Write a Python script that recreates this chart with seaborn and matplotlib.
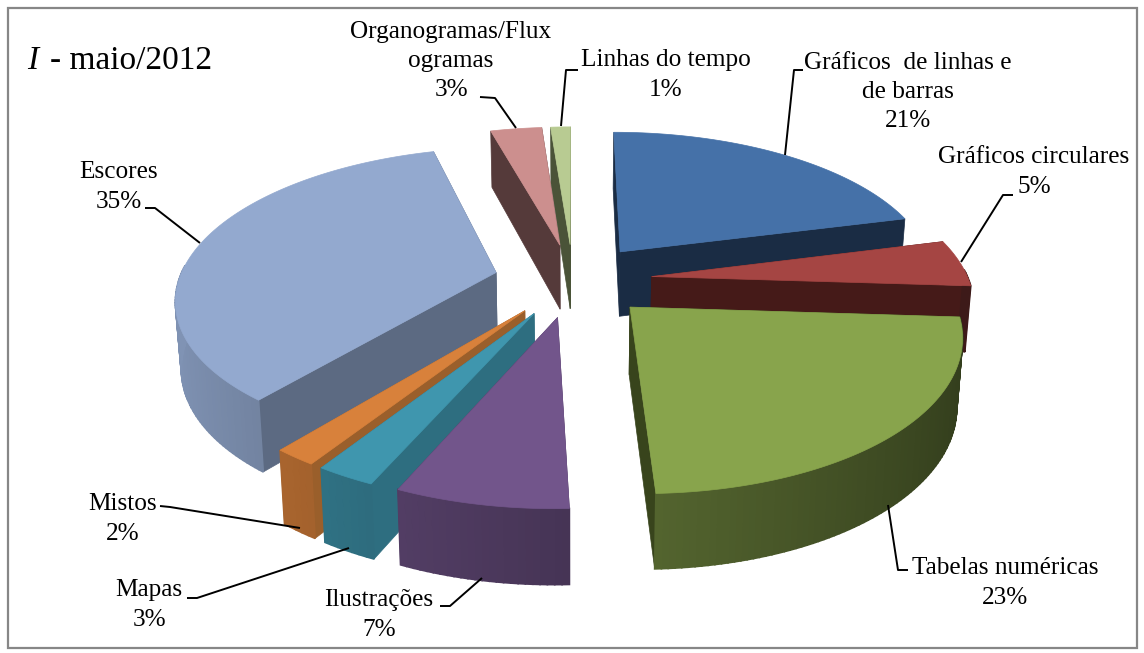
"""Pizza 3D explodida: tipos de gráficos, maio/2012."""
import matplotlib.pyplot as plt
import numpy as np
import seaborn as sns

categorias = ["Gráficos  de linhas e\nde barras", "Gráficos circulares", "Tabelas numéricas",
              "Ilustrações", "Mapas", "Mistos", "Escores",
              "Organogramas/Flux\nogramas", "Linhas do tempo"]
# os rótulos vêm arredondados; as fatias foram medidas na figura
percentuais = ["21%", "5%", "23%", "7%", "3%", "2%", "35%", "3%", "1%"]
valores = [21, 5, 23.4, 7.2, 2.5, 1.8, 34.8, 3.1, 1.2]

cores_topo = ["#4571a8", "#a54543", "#88a44c", "#72558b", "#3f96ae",
              "#d8813b", "#93a9cf", "#cc8f8e", "#b8cb92"]
cores_corte = ["#1a2c44", "#451a18", "#38441c", "#47345a", "#2e6e80",
               "#9a5f2b", "#5c6a82", "#553a3a", "#4a5338"]

# ordem de pintura, de trás para a frente
ordem = [8, 7, 0, 1, 6, 5, 4, 3, 2]

# posição (centro) dos rótulos e caminho das linhas de chamada, em pixels
pos_rotulos = [(908, 92), (1034, 172), (1005, 583), (379, 615), (149, 605),
               (123, 519), (119, 187), (451, 61), (666, 75)]
chamadas = [[(803, 70), (794, 70), (785, 155)],
            [(1013, 195), (1003, 195), (961, 262)],
            [(908, 570), (898, 570), (888, 505)],
            [(440, 606), (450, 606), (482, 578)],
            [(187, 598), (197, 598), (349, 548)],
            [(160, 506), (170, 507), (300, 528)],
            [(145, 208), (155, 208), (200, 243)],
            [(480, 97), (495, 98), (516, 128)],
            [(578, 70), (566, 70), (561, 126)]]

CX, CY = 573, 280
RAIO = 317
ESCALA_Y = 147
PERSP = 0.16
EXPLODE = 0.25

sns.set_theme(style="white")
plt.rcParams["font.family"] = ["Liberation Serif", "DejaVu Serif"]


def projeta(u, v, fundo=False):
    """Disco (u, v) para pixels; fundo=True devolve a face de baixo."""
    s = 1 / (1 + PERSP * v)
    x = CX + RAIO * u * s
    y = CY - ESCALA_Y * v * s
    if fundo:
        x = CX + (x - CX) * 0.985
        y = y + 66 - 8 * v
    return x, y


def escurece(cor, fator):
    return tuple(c * fator for c in sns.color_palette([cor])[0])


fig = plt.figure(figsize=(11.44, 6.53), dpi=100)
ax = fig.add_axes([0, 0, 1, 1])
ax.set_xlim(0, 1144)
ax.set_ylim(653, 0)
ax.axis("off")

limites = np.cumsum([0] + valores) / sum(valores) * 2 * np.pi

for z, i in enumerate(ordem):
    a0, a1 = limites[i], limites[i + 1]
    meio = (a0 + a1) / 2
    du, dv = EXPLODE * np.sin(meio), EXPLODE * np.cos(meio)
    ang = np.linspace(a0, a1, max(int(np.degrees(a1 - a0)), 4))
    u = du + np.sin(ang)
    v = dv + np.cos(ang)

    # paredes dos cortes radiais
    for k in (0, -1):
        cu = [du, u[k], u[k], du]
        cv = [dv, v[k], v[k], dv]
        tampa = [False, False, True, True]
        pts = [projeta(a, b, f) for a, b, f in zip(cu, cv, tampa)]
        ax.fill(*zip(*pts), color=cores_corte[i], lw=0.5, zorder=1 + z)

    # parede externa (só a parte voltada para a frente), luz vinda da esquerda
    for k in range(len(ang) - 1):
        meio_k = (ang[k] + ang[k + 1]) / 2
        if np.cos(meio_k) > 0.05:
            continue
        fator = 0.62 - 0.25 * np.sin(meio_k)
        pts = [projeta(u[k], v[k]), projeta(u[k + 1], v[k + 1]),
               projeta(u[k + 1], v[k + 1], True), projeta(u[k], v[k], True)]
        ax.fill(*zip(*pts), color=escurece(cores_topo[i], fator), lw=1.2,
                zorder=1.2 + z)

    # face de cima
    pts = [projeta(du, dv)] + [projeta(a, b) for a, b in zip(u, v)]
    ax.fill(*zip(*pts), color=cores_topo[i], lw=0.5, zorder=1.4 + z)

for nome, pct, (x, y), linha in zip(categorias, percentuais, pos_rotulos, chamadas):
    ax.text(x, y, f"{nome}\n{pct}", ha="center", va="center", fontsize=18.2,
            linespacing=1.42, color="black", zorder=20)
    ax.plot(*zip(*linha), color="black", lw=1.4, zorder=19, solid_capstyle="butt")

ax.text(27, 61, "I", style="italic", fontsize=24, va="center", color="black")
ax.text(50, 61, "- maio/2012", fontsize=24, va="center", color="black")

ax.add_patch(plt.Rectangle((8, 8), 1129, 640, fill=False, edgecolor="#878787", lw=1.6, zorder=30))

fig.savefig("out.png", dpi=100)
